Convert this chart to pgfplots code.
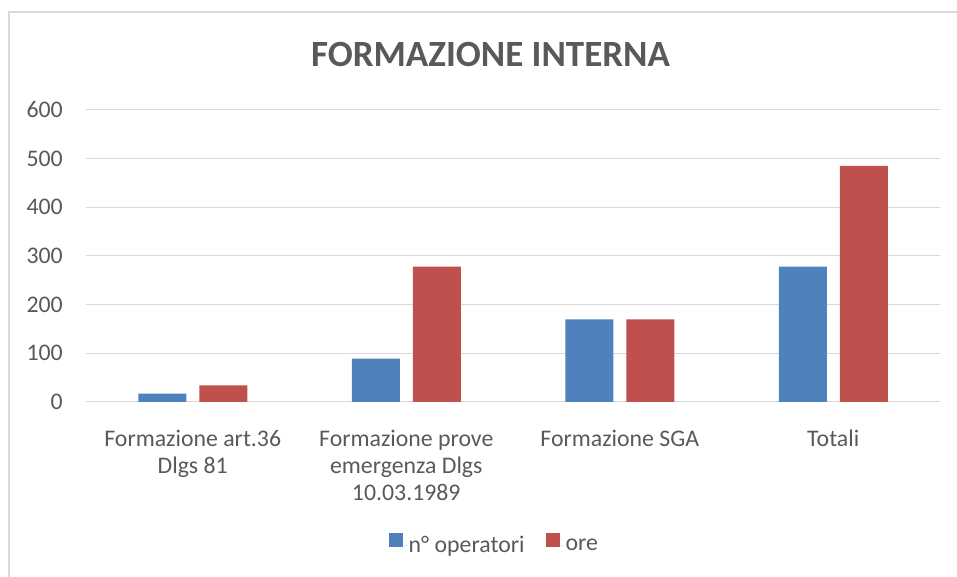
\documentclass[border=0pt]{standalone}
\usepackage{fontspec}
\setmainfont{Carlito}
\usepackage{pgfplots}
\pgfplotsset{compat=1.18}
\definecolor{barblue}{HTML}{4F81BD}
\definecolor{barred}{HTML}{C0504D}
\definecolor{textgray}{HTML}{595959}
\definecolor{gridgray}{HTML}{D9D9D9}
\begin{document}
\begin{tikzpicture}[x=1pt,y=1pt]
\useasboundingbox (0,0) rectangle (957,577);
\draw[gridgray, line width=1.5pt] (9,-5) -- (9,565) -- (965,565);
\node[anchor=base, text=textgray, font=\fontsize{37}{41}\selectfont\bfseries, inner sep=0pt] at (490.5,510) {FORMAZIONE INTERNA};
\begin{axis}[
  at={(86pt,175pt)}, anchor=south west,
  scale only axis, width=854pt, height=292pt,
  ymin=0, ymax=600, ytick={0,100,...,600},
  xmin=-0.5, xmax=3.5, xtick={0,1,2,3},
  xticklabels={{Formazione art.36\\Dlgs 81},{Formazione prove\\emergenza Dlgs\\10.03.1989},{Formazione SGA},{Totali}},
  ybar=13pt, bar width=48pt,
  axis line style={draw=none},
  tick style={draw=none},
  ymajorgrids, major grid style={gridgray, line width=1pt},
  /pgf/number format/assume math mode=true,
  yticklabel style={anchor=east, inner sep=0pt, xshift=-23pt, text=textgray, font=\fontsize{23.8}{27}\selectfont},
  xticklabel style={anchor=north, inner sep=0pt, yshift=-24pt, align=center, text=textgray, font=\fontsize{23.8}{27}\selectfont},
  legend columns=2,
  legend style={at={(0.477,-0.485)}, anchor=center, draw=none, fill=none, inner sep=0pt,
    nodes={inner sep=0pt, text=textgray, font=\fontsize{23.8}{27}\selectfont},
    /tikz/every even column/.append style={column sep=21pt}},
]
\addplot[fill=barblue, draw=none, legend image code/.code={\fill[barblue] (0pt,-2pt) rectangle (14pt,12pt); \path (0pt,0pt) -- (20pt,0pt);}] coordinates {(0,17) (1,89) (2,170) (3,278)};
\addplot[fill=barred, draw=none, legend image code/.code={\fill[barred] (0pt,-2pt) rectangle (14pt,12pt); \path (0pt,0pt) -- (20pt,0pt);}] coordinates {(0,34) (1,278) (2,170) (3,485)};
\legend{n° operatori, ore}
\end{axis}
\end{tikzpicture}
\end{document}
